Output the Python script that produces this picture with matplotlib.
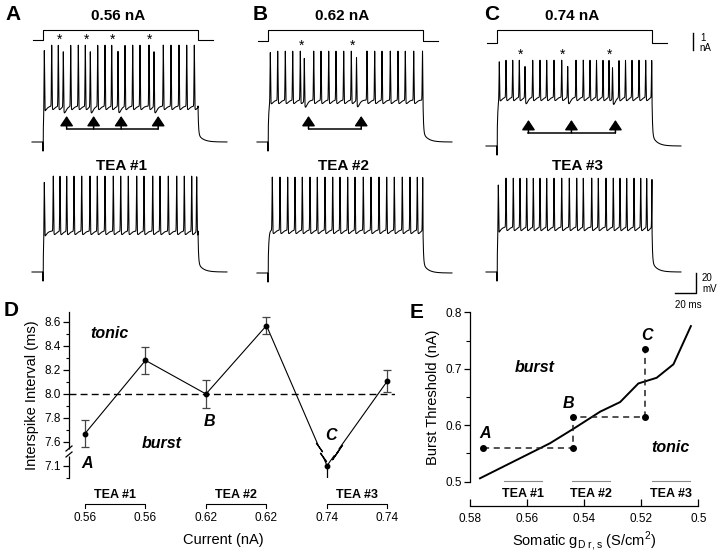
import numpy as np
import matplotlib
matplotlib.use("Agg")
import matplotlib.pyplot as plt
from matplotlib import transforms

plt.rcParams['font.family'] = ['Liberation Sans', 'DejaVu Sans']
plt.rcParams['mathtext.fontset'] = 'custom'
plt.rcParams['mathtext.rm'] = 'Liberation Sans'

# --- trace data (spike times in ms from step onset) ---
step_amp = [0.56, 0.62, 0.74]             # injected current, nA
step_len = 155                            # ms

ctrl_spikes = [
    [1.3, 8.7, 15.3, 20.3, 27.7, 35.3, 42.3, 47.3, 54.7, 62.0, 68.7, 75.0,
     82.0, 89.7, 97.0, 106.0, 111.0, 120.3, 128.0, 136.0, 143.7, 151.3],
    [2.3, 9.7, 17.3, 24.7, 32.3, 36.3, 45.7, 53.0, 60.7, 68.0, 75.7, 83.3,
     88.5, 99.0, 106.7, 114.0, 122.3, 130.0, 137.3, 145.7, 154.5],
    [2.3, 9.0, 15.7, 22.3, 28.0, 35.7, 43.0, 49.7, 57.0, 64.7, 70.7, 79.0,
     86.3, 93.0, 99.5, 106.0, 112.0, 115.5, 122.0, 128.5, 135.0, 142.0,
     148.7, 154.7],
]
# first spike of each doublet (marked *), second one is the short one
doublet_first = [[2, 6, 10, 15], [4, 11], [3, 9, 16]]
ctrl_plateau = [-29, -23, -16]            # mV
ctrl_peak = [32, 26, 21]                  # mV

tea_spikes = [
    [1.3, 10.3, 17.0, 23.7, 31.0, 38.7, 47.0, 54.3, 62.0, 70.3, 77.7, 85.3,
     93.7, 101.0, 109.7, 117.0, 125.3, 133.7, 141.3, 148.7, 153.7],
    [4.3, 12.0, 19.7, 27.0, 34.3, 42.0, 49.3, 57.0, 64.7, 72.0, 79.7, 87.0,
     95.3, 103.0, 111.0, 118.7, 126.3, 134.3, 142.0, 149.3, 154.7],
    [1.3, 9.0, 16.3, 23.0, 29.7, 36.3, 43.0, 49.7, 57.0, 64.7, 72.3, 79.7,
     86.3, 94.7, 101.3, 109.0, 116.3, 123.0, 129.7, 137.0, 143.7, 149.7, 155.0],
]
tea_plateau = [-24, -22, -20]
tea_peak = [31, 31, 29]
rest = -65

# --- panel D data ---
isi_labels = ['0.56', '0.56', '0.62', '0.62', '0.74', '0.74']
isi_mean = [7.67, 8.28, 8.00, 8.57, 7.10, 8.11]
isi_err = [0.11, 0.11, 0.12, 0.07, 0.12, 0.09]
tea_names = ['TEA #1', 'TEA #2', 'TEA #3']

# --- panel E data ---
curve_g = [0.5765, 0.552, 0.5435, 0.5344, 0.5274, 0.521, 0.5146, 0.5087, 0.5026]
curve_thr = [0.506, 0.568, 0.5945, 0.624, 0.641, 0.674, 0.684, 0.708, 0.7756]
exp_g = [0.5753, 0.5438, 0.5187]
exp_thr = [0.56, 0.615, 0.735]
tea_g_ranges = [(0.568, 0.5547), (0.5444, 0.5309), (0.5163, 0.5029)]

W, H = 720, 555
fig = plt.figure(figsize=(W / 100, H / 100), dpi=100)


def px_axes(x0, y0, x1, y1):
    return fig.add_axes([x0 / W, 1 - y1 / H, (x1 - x0) / W, (y1 - y0) / H])


def make_trace(spikes, low, plateau, peak):
    t = np.arange(-11, 184, 0.05)
    v = np.full_like(t, float(rest))
    on = (t >= 0) & (t < step_len)
    v[on] = plateau - (plateau - rest) * np.exp(-t[on] / 0.7)
    for i, s in enumerate(spikes):
        d = t - s
        a = (peak - plateau) - (6 if i in low else 0)
        v[on] += a * np.exp(-(d[on] / 0.38) ** 2)
        m = on & (d > 0)
        depth = 6.5 if i in low else 3.5
        v[m] -= depth * (d[m] / 1.3) * np.exp(1 - d[m] / 1.3)
    art = (t >= -0.3) & (t < 0.25)
    v[art] = rest - 9
    off = t >= step_len
    dt = t[off] - step_len
    v[off] = rest + (plateau - rest) * (0.78 * np.exp(-dt / 0.5) + 0.22 * np.exp(-dt / 5))
    return t, v


x_onset = [43, 268, 497]
row1_rest_px = [142, 142, 146]
row2_rest_px = [272, 273, 272]
lw_tr = 0.75

for k in range(3):
    x0 = x_onset[k]
    # current step
    axI = px_axes(x0 - 15, 10, x0 + 200, 60)
    amp = step_amp[k]
    axI.set_xlim(-15, 200)
    axI.set_ylim(amp - 30 / 17, amp + 20 / 17)
    axI.plot([-10, 0, 0, step_len, step_len, 170], [0, 0, amp, amp, 0, 0],
             color='k', lw=0.8)
    axI.axis('off')
    if k == 2:
        axI.plot([196.3, 196.3], [amp - 3 / 17, amp - 3 / 17 - 1], color='k',
                 lw=1.0, clip_on=False)

    # control trace
    yr = row1_rest_px[k]
    ax = px_axes(x0 - 15, yr - 110, x0 + 200, yr + 20)
    ax.set_xlim(-15, 200)
    ax.set_ylim(rest - 20, rest + 110)
    ax.axis('off')
    first = doublet_first[k]
    low = [i + 1 for i in first]
    t, v = make_trace(ctrl_spikes[k], low, ctrl_plateau[k], ctrl_peak[k])
    ax.plot(t, v, color='k', lw=lw_tr)
    sp = ctrl_spikes[k]
    for i in first:
        ax.text(sp[i] + 1.0, ctrl_peak[k] + 5, '*', ha='center', va='center',
                fontsize=10)
    arrow_t = [sp[i + 1] + 0.45 * (sp[i + 2] - sp[i + 1]) for i in first]
    tip, base = rest + 26, rest + 13
    ax.plot([arrow_t[0], arrow_t[-1]], [base, base], color='k', lw=1.1)
    for a in arrow_t:
        ax.annotate('', xy=(a, tip), xytext=(a, base),
                    arrowprops=dict(arrowstyle='-|>,head_length=0.6,head_width=0.4',
                                    color='k', lw=1.1, mutation_scale=10,
                                    shrinkA=0, shrinkB=0))

    # TEA trace
    yr2 = row2_rest_px[k]
    ax2 = px_axes(x0 - 15, yr2 - 110, x0 + 200, yr2 + 20)
    ax2.set_xlim(-15, 200)
    ax2.set_ylim(rest - 20, rest + 110)
    ax2.axis('off')
    t, v = make_trace(tea_spikes[k], [], tea_plateau[k], tea_peak[k])
    ax2.plot(t, v, color='k', lw=lw_tr)
    if k == 2:
        ax2.plot([178.3, 198.7, 198.7], [rest - 21.3, rest - 21.3, rest - 1.3],
                 color='k', lw=1.0, clip_on=False)

# --- panel D ---
axD = px_axes(69, 312, 395, 478)
pos = np.arange(len(isi_mean))


def brk(v):
    v = np.asarray(v, dtype=float)
    return np.where(v < 7.45, v + 0.3025, v)


m = np.array(isi_mean)
e = np.array(isi_err)
axD.set_xlim(-0.264, 5.124)
axD.set_ylim(7.3, 8.683)
axD.axhline(8.0, color='k', lw=1.0, ls=(0, (5, 3)))
axD.plot(pos, brk(m), color='k', lw=0.8)
keep = pos != 4
axD.errorbar(pos[keep], m[keep], yerr=e[keep], fmt='none', ecolor='#444',
             elinewidth=0.9, capsize=2.8, capthick=0.9)
axD.plot([4, 4], brk([m[4], m[4] - e[4]]), color='k', lw=0.9)
axD.plot([4], brk([m[4] - e[4]]), marker='_', ms=5.6, mew=0.9, color='k')
axD.plot(pos, brk(m), 'o', color='k', ms=3.2)

# break marks on the lines into C
for j0, j1, f in [(3, 4, 0.90), (4, 5, 0.16)]:
    pts = []
    for df in (-0.035, 0.035):
        fx = pos[j0] + (pos[j1] - pos[j0]) * (f + df)
        fy = brk(m[j0]) + (brk(m[j1]) - brk(m[j0])) * (f + df)
        pts.append((fx, fy))
    axD.plot([pts[0][0], pts[1][0]], [pts[0][1], pts[1][1]], color='white',
             lw=2.5, solid_capstyle='butt', zorder=3)
    for fx, fy in pts:
        axD.plot([fx], [fy], marker=(2, 2, 35 if j0 == 3 else -35), ms=8,
                 mew=0.9, color='k', zorder=4)

for s in ['top', 'right', 'bottom']:
    axD.spines[s].set_visible(False)
axD.spines['left'].set_linewidth(0.9)
yt = [7.1, 7.6, 7.8, 8.0, 8.2, 8.4, 8.6]
axD.set_yticks(brk(yt))
axD.set_yticklabels(['%.1f' % v for v in yt])
axD.set_yticks(brk([7.0, 7.7, 7.9, 8.1, 8.3, 8.5]), minor=True)
axD.tick_params(axis='y', direction='out', length=4, width=0.9, labelsize=8.5, pad=2)
axD.tick_params(axis='y', which='minor', length=2, width=0.8)
axD.set_xticks([])
axD.set_ylabel('Interspike Interval (ms)', fontsize=10.5, labelpad=4)

# --- panel E ---
axE = px_axes(470, 312.3, 698.3, 481.7)
axE.set_xlim(0.58, 0.50)
axE.set_ylim(0.5, 0.8)
axE.plot(curve_g, curve_thr, color='k', lw=1.4)
path_x = [exp_g[0], exp_g[1], exp_g[1], exp_g[2], exp_g[2]]
path_y = [exp_thr[0], exp_thr[0], exp_thr[1], exp_thr[1], exp_thr[2]]
axE.plot(path_x, path_y, color='#222', lw=1.1, ls=(0, (4, 3)))
axE.plot(path_x, path_y, 'o', color='k', ms=4, ls='none')
for (g0, g1) in tea_g_ranges:
    axE.plot([g0, g1], [0.502, 0.502], color='#888', lw=0.8, clip_on=False)
for s in ['top', 'right']:
    axE.spines[s].set_visible(False)
axE.spines['bottom'].set_position(('outward', 17.5))
axE.spines['left'].set_linewidth(0.9)
axE.spines['bottom'].set_linewidth(0.9)
axE.set_xticks([0.58, 0.56, 0.54, 0.52, 0.50])
axE.set_xticklabels(['0.58', '0.56', '0.54', '0.52', '0.5'])
axE.set_yticks([0.5, 0.6, 0.7, 0.8])
axE.set_yticks([0.55, 0.65, 0.75], minor=True)
axE.tick_params(axis='x', direction='in', length=5, width=0.9, labelsize=8.5, pad=5)
axE.tick_params(axis='y', direction='out', length=4, width=0.9, labelsize=8.5, pad=2)
axE.tick_params(axis='y', which='minor', length=3, width=0.8)
axE.set_ylabel('Burst Threshold (nA)', fontsize=10.5, labelpad=4)
axE.set_xlabel(r'Somatic g$_{\mathregular{D\ r,s}}$ (S/cm$^{\mathregular{2}}$)',
               fontsize=10.5, labelpad=3)

# --- overlay for lettering ---
ov = px_axes(0, 0, W, H)
ov.set_xlim(0, W)
ov.set_ylim(H, 0)
ov.axis('off')
ov.set_zorder(10)

bold = dict(fontweight='bold', ha='center', va='center')
for lab, x, y in [('A', 13, 14), ('B', 260, 14), ('C', 492, 14),
                  ('D', 11, 310), ('E', 417, 312)]:
    ov.text(x, y, lab, fontsize=15, **bold)
for k, x in enumerate([118.5, 342.3, 571.7]):
    ov.text(x, 16, '%.2f nA' % step_amp[k], fontsize=11, **bold)
for k, x in enumerate([121.7, 343.3, 577.5]):
    ov.text(x, 166, tea_names[k], fontsize=11, **bold)

# scale bar texts
ov.text(700, 38, '1', fontsize=7, ha='left', va='center')
ov.text(699, 48, 'nA', fontsize=7, ha='left', va='center')
ov.text(702, 278, '20', fontsize=7, ha='left', va='center')
ov.text(702, 289, 'mV', fontsize=7, ha='left', va='center')
ov.text(688, 305, '20 ms', fontsize=7, ha='center', va='center')

# D labels
bi = dict(fontweight='bold', fontstyle='italic', ha='center', va='center')
ov.text(109, 333, 'tonic', fontsize=11.5, **bi)
ov.text(162, 443, 'burst', fontsize=11.5, **bi)
ov.text(87, 463, 'A', fontsize=11.5, **bi)
ov.text(209, 422, 'B', fontsize=11.5, **bi)
ov.text(331, 435, 'C', fontsize=11.5, **bi)

# D axis break on spine
ov.plot([69, 69], [448.5, 455.5], color='white', lw=2.5, solid_capstyle='butt')
ov.plot([66, 72], [451, 446], color='k', lw=0.9)
ov.plot([66, 72], [457, 452], color='k', lw=0.9)

# D category brackets
trD = transforms.blended_transform_factory(axD.transData, ov.transData)
for g in range(3):
    a, b = 2 * g, 2 * g + 1
    ov.plot([a, a, b, b], [508, 504, 504, 508], color='k', lw=0.8, transform=trD)
    ov.text(a + 0.5, 495, tea_names[g], fontsize=9, transform=trD, **bold)
for i, lab in enumerate(isi_labels):
    ov.text(i, 518, lab, fontsize=8.5, ha='center', va='center', transform=trD)
ov.text(223, 540, 'Current (nA)', fontsize=10.5, ha='center', va='center')

# E labels
ov.text(535, 367, 'burst', fontsize=11.5, **bi)
ov.text(670, 447, 'tonic', fontsize=11.5, **bi)
ov.text(485, 433, 'A', fontsize=11.5, **bi)
ov.text(568, 403, 'B', fontsize=11.5, **bi)
ov.text(647, 336, 'C', fontsize=11.5, **bi)
trE = transforms.blended_transform_factory(axE.transData, ov.transData)
for (g0, g1), name in zip(tea_g_ranges, tea_names):
    ov.text((g0 + g1) / 2, 494, name, fontsize=9, transform=trE, **bold)

fig.savefig('out.png', dpi=100)
